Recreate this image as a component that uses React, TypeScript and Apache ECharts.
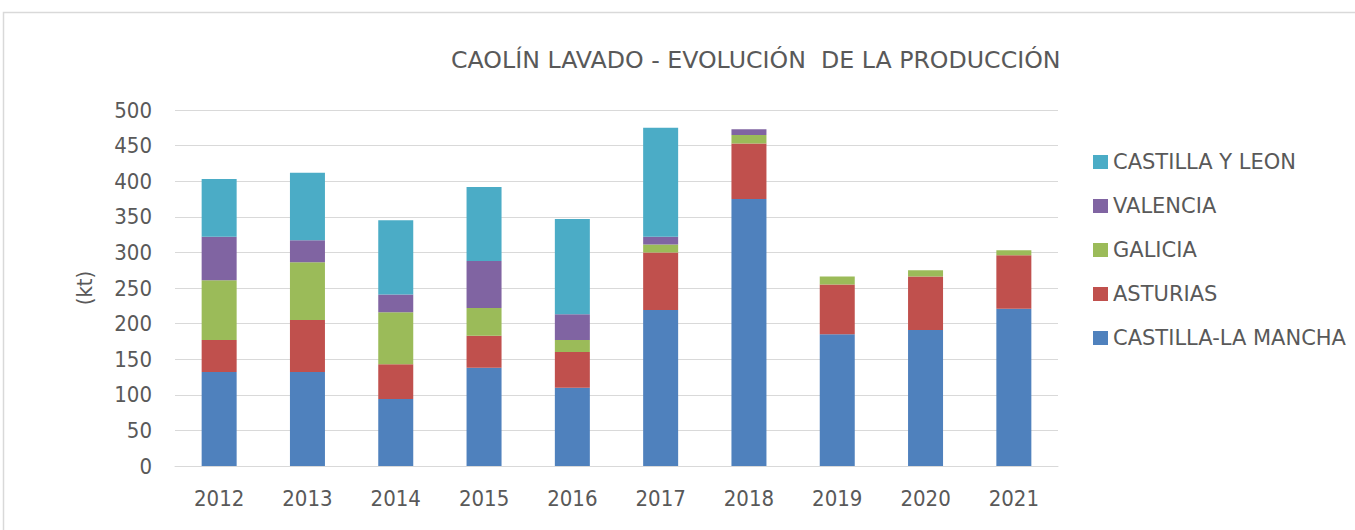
import React, { useEffect, useRef } from "react";
import * as echarts from "echarts";

const years = ["2012", "2013", "2014", "2015", "2016", "2017", "2018", "2019", "2020", "2021"];
const castillaLaMancha = [132, 132, 94, 138, 110, 219, 375, 185, 191, 221];
const asturias = [45, 73, 49, 45, 50, 81, 78, 70, 75, 75];
const galicia = [84, 81, 73, 39, 17, 11, 12, 11, 9, 7];
const valencia = [61, 31, 25, 66, 36, 11, 8, 0, 0, 0];
const castillaYLeon = [81, 95, 104, 104, 134, 153, 0, 0, 0, 0];

const seriesDefs = [
  { name: "CASTILLA-LA MANCHA", data: castillaLaMancha, color: "#4F81BD" },
  { name: "ASTURIAS", data: asturias, color: "#C0504D" },
  { name: "GALICIA", data: galicia, color: "#9BBB59" },
  { name: "VALENCIA", data: valencia, color: "#8064A2" },
  { name: "CASTILLA Y LEON", data: castillaYLeon, color: "#4BACC6" },
];

const FONT = "DejaVu Sans";
const FONT_NUM = "'DejaVu Sans Condensed', 'DejaVu Sans'";
const TXT = "#595959";

export default function App() {
  const ref = useRef<HTMLDivElement>(null);
  useEffect(() => {
    const chart = echarts.init(ref.current!, null, { renderer: "svg" });
    chart.setOption({
      animation: false,
      backgroundColor: "#fff",
      title: {
        text: "CAOLÍN LAVADO - EVOLUCIÓN  DE LA PRODUCCIÓN",
        left: 446,
        top: 43,
        textStyle: { fontFamily: FONT, fontSize: 23.7, fontWeight: "normal", color: TXT },
      },
      legend: {
        orient: "vertical",
        left: 1093,
        top: 151.5,
        padding: 0,
        itemWidth: 15,
        itemHeight: 14,
        itemGap: 23,
        icon: "rect",
        data: seriesDefs.map((s) => s.name).reverse(),
        textStyle: { fontFamily: FONT, fontSize: 21, color: TXT },
      },
      grid: { left: 175, right: 297, top: 110, bottom: 64, containLabel: false },
      xAxis: {
        type: "category",
        data: years,
        axisLine: { lineStyle: { color: "#d9d9d9", width: 1 } },
        axisTick: { show: false },
        axisLabel: { fontFamily: FONT_NUM, fontSize: 22, color: TXT, margin: 21 },
      },
      yAxis: {
        type: "value",
        min: 0,
        max: 500,
        interval: 50,
        name: "(kt)",
        nameLocation: "middle",
        nameRotate: 90,
        nameGap: 80,
        nameTextStyle: { fontFamily: FONT_NUM, fontSize: 22, color: TXT },
        axisLine: { show: false },
        axisTick: { show: false },
        splitLine: { lineStyle: { color: "#d9d9d9", width: 1 } },
        axisLabel: { fontFamily: FONT_NUM, fontSize: 22, color: TXT, margin: 23 },
      },
      graphic: [
        {
          type: "rect",
          shape: { x: 3.5, y: 12.5, width: 1400, height: 600 },
          style: { fill: "none", stroke: "#d9d9d9", lineWidth: 1.5 },
          silent: true,
        },
      ],
      series: seriesDefs.map((s) => ({
        name: s.name,
        type: "bar",
        stack: "total",
        data: s.data,
        barWidth: 35,
        itemStyle: { color: s.color },
      })),
    });
    return () => chart.dispose();
  }, []);
  return (
    <div
      ref={ref}
      style={{ position: "absolute", left: 0, top: 0, width: 1355, height: 530 }}
    />
  );
}
